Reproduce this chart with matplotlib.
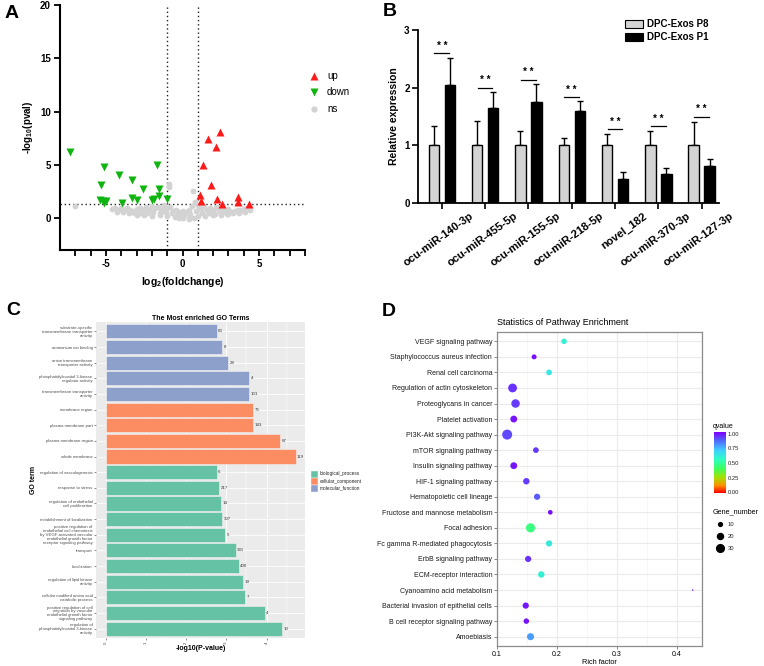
import numpy as np
import matplotlib
matplotlib.use('Agg')
import matplotlib.pyplot as plt
import matplotlib.transforms as mtransforms
from matplotlib.colors import LinearSegmentedColormap
from matplotlib.lines import Line2D
from matplotlib.patches import Rectangle

plt.rcParams['font.family'] = ['Liberation Sans', 'DejaVu Sans']
plt.rcParams['mathtext.fontset'] = 'custom'
plt.rcParams['mathtext.rm'] = 'Liberation Sans:bold'
plt.rcParams['mathtext.it'] = 'Liberation Sans:bold'
plt.rcParams['mathtext.bf'] = 'Liberation Sans:bold'

# ---------------- Panel A data (volcano) ----------------
up_x = [2.48, 1.66, 2.22, 1.35, 1.83, 1.13, 1.20, 2.26, 2.55, 3.60, 3.60, 4.33]
up_y = [8.1, 7.4, 6.7, 5.0, 3.1, 2.2, 1.6, 1.8, 1.3, 2.0, 1.5, 1.3]
down_x = [-7.36, -5.14, -5.29, -4.16, -3.33, -1.66, -2.59, -1.55, -5.36, -5.20,
          -4.98, -5.10, -3.94, -3.27, -2.96, -1.98, -1.83, -1.55, -1.00]
down_y = [6.2, 4.8, 3.1, 4.0, 3.6, 5.0, 2.7, 2.7, 1.7, 1.6,
          1.6, 1.4, 1.4, 1.85, 1.7, 1.7, 1.8, 2.1, 1.75]
ns_x = [-7.0, -0.9, -0.9, 0.7,
        -4.6, -4.4, -4.2, -4.0, -3.8, -3.6, -3.4, -3.2, -3.0, -2.8, -2.6, -2.4, -2.2, -2.0,
        -1.8, -1.6, -1.4, -1.2, -1.0, -0.8, -0.6, -0.4, -0.2, 0.0, 0.2, 0.4, 0.6, 0.8, 1.0,
        1.2, 1.4, 1.6, 1.8, 2.0, 2.2, 2.4, 2.6, 2.8, 3.0, 3.2, 3.4, 3.6, 3.8, 4.0, 4.2, 4.4,
        -4.3, -3.9, -3.5, -3.1, -2.7, -2.3, -1.9, -1.5, -1.1, -0.7, -0.3, 0.1, 0.5, 0.9,
        1.3, 1.7, 2.1, 2.5, 2.9, 3.3, 3.7, 4.1,
        -3.0, -2.5, -2.0, -1.5, -1.0, -0.5, 0.0, 0.5, 1.0, 1.5, 2.0, 2.5, 3.0,
        -2.2, -1.3, -0.1, 0.3, 1.1, 1.9, 2.7, -3.3, 0.75, -0.2, 0.4]
ns_y = [1.1, 3.2, 2.9, 2.5,
        0.85, 0.95, 0.8, 0.9, 0.75, 0.9, 0.8, 0.7, 0.85, 0.9, 0.75, 1.0, 0.8, 1.1,
        0.9, 1.0, 0.85, 1.2, 0.9, 1.0, 0.7, 0.8, 0.6, 0.7, 0.6, 0.8, 1.1, 1.5, 1.2,
        0.9, 1.0, 0.8, 0.9, 0.7, 1.0, 0.8, 0.9, 0.7, 0.85, 0.6, 0.7, 0.75, 0.8, 0.85, 0.9, 0.75,
        0.6, 0.55, 0.5, 0.45, 0.5, 0.45, 0.55, 0.5, 0.6, 0.45, 0.35, 0.3, 0.4, 0.7,
        0.5, 0.45, 0.4, 0.5, 0.4, 0.45, 0.5, 0.55,
        0.3, 0.25, 0.2, 0.25, 0.15, 0.1, 0.05, 0.1, 0.2, 0.2, 0.25, 0.3, 0.35,
        0.65, 0.7, 0.45, 0.5, 0.95, 0.6, 0.65, 0.6, 0.0, 0.0, -0.05]

# ---------------- Panel B data (qPCR bars) ----------------
mirnas = ['ocu-miR-140-3p', 'ocu-miR-455-5p', 'ocu-miR-155-5p', 'ocu-miR-218-5p',
          'novel_182', 'ocu-miR-370-3p', 'ocu-miR-127-3p']
p8_mean = [1.0, 1.0, 1.0, 1.0, 1.0, 1.0, 1.0]
p8_err = [0.33, 0.42, 0.25, 0.13, 0.19, 0.25, 0.41]
p1_mean = [2.04, 1.64, 1.75, 1.60, 0.42, 0.51, 0.64]
p1_err = [0.47, 0.29, 0.31, 0.17, 0.12, 0.09, 0.12]
sig_y = [2.60, 2.00, 2.14, 1.84, 1.28, 1.33, 1.50]

# ---------------- Panel C data (GO bars) ----------------
go_terms = [
    'substrate-specific\ntransmembrane transporter\nactivity',
    'ammonium ion binding',
    'anion transmembrane\ntransporter activity',
    'phosphatidylinositol 3-kinase\nregulator activity',
    'transmembrane transporter\nactivity',
    'membrane region',
    'plasma membrane part',
    'plasma membrane region',
    'whole membrane',
    'regulation of vasculogenesis',
    'response to stress',
    'regulation of endothelial\ncell proliferation',
    'establishment of localization',
    'positive regulation of\nendothelial cell chemotaxis\nby VEGF-activated vascular\nendothelial growth factor\nreceptor signaling pathway',
    'transport',
    'localization',
    'regulation of lipid kinase\nactivity',
    'cellular modified amino acid\ncatabolic process',
    'positive regulation of cell\nmigration by vascular\nendothelial growth factor\nsignaling pathway',
    'regulation of\nphosphatidylinositol 3-kinase\nactivity',
]
go_values = [2.76, 2.90, 3.04, 3.57, 3.57, 3.66, 3.66, 4.34, 4.72,
             2.76, 2.82, 2.86, 2.90, 2.97, 3.23, 3.31, 3.41, 3.47, 3.95, 4.39]
go_counts = ['60', '8', '28', '4', '101', '76', '143', '67', '119',
             '6', '217', '14', '307', '5', '331', '400', '19', '7', '4', '10']
go_class = ['molecular_function'] * 5 + ['cellular_component'] * 4 + ['biological_process'] * 11
go_classes = ['biological_process', 'cellular_component', 'molecular_function']

# ---------------- Panel D data (KEGG dots) ----------------
pathways = ['VEGF signaling pathway', 'Staphylococcus aureus infection', 'Renal cell carcinoma',
            'Regulation of actin cytoskeleton', 'Proteoglycans in cancer', 'Platelet activation',
            'PI3K-Akt signaling pathway', 'mTOR signaling pathway', 'Insulin signaling pathway',
            'HIF-1 signaling pathway', 'Hematopoietic cell lineage',
            'Fructose and mannose metabolism', 'Focal adhesion',
            'Fc gamma R-mediated phagocytosis', 'ErbB signaling pathway',
            'ECM-receptor interaction', 'Cyanoamino acid metabolism',
            'Bacterial invasion of epithelial cells', 'B cell receptor signaling pathway',
            'Amoebiasis']
rich_factor = [0.212, 0.162, 0.187, 0.126, 0.131, 0.128, 0.117, 0.165, 0.128, 0.149,
               0.167, 0.189, 0.156, 0.187, 0.152, 0.174, 0.427, 0.148, 0.149, 0.156]
qvalue = [0.60, 0.98, 0.63, 0.93, 0.92, 0.97, 0.90, 0.92, 0.97, 0.92,
          0.88, 0.98, 0.45, 0.62, 0.93, 0.60, 0.98, 0.97, 0.97, 0.78]
gene_number = [11, 9, 12, 28, 26, 17, 36, 12, 17, 15,
               14, 8, 30, 14, 14, 15, 1, 14, 11, 18]
size_breaks = [10, 20, 30]
q_ticks = [0.00, 0.25, 0.50, 0.75, 1.00]

# =========================================================
W, H, DPI = 764, 666, 100
fig = plt.figure(figsize=(W / DPI, H / DPI), dpi=DPI)


def fx(px):
    return px / W


def fy(py):
    return 1 - py / H


def add_ax(l, t, r, b):
    return fig.add_axes([fx(l), fy(b), (r - l) / W, (b - t) / H])


def px2pt(p):
    return p * 72.0 / DPI


# ---------------- Panel A ----------------
axA = add_ax(60, 5, 305, 250)
axA.plot(ns_x, ns_y, 'o', color='#D3D3D3', ms=4.2, mec='none', zorder=2)
axA.plot(down_x, down_y, 'v', color='#10B410', ms=6.2, mec='none', zorder=3)
axA.plot(up_x, up_y, '^', color='#FF1A1A', ms=6.2, mec='none', zorder=3)
axA.axhline(1.3, color='#222222', ls=(0, (1, 2)), lw=1.0, zorder=1)
for v in (-1, 1):
    axA.axvline(v, color='#222222', ls=(0, (1, 2)), lw=1.0, zorder=1)
axA.set_xlim(-8, 8)
axA.set_ylim(-3, 20)
for s in ('top', 'right'):
    axA.spines[s].set_visible(False)
for s in ('left', 'bottom'):
    axA.spines[s].set_linewidth(1.5)
axA.set_xticks(list(range(-7, 9)))
axA.set_xticklabels(['-5' if t == -5 else '0' if t == 0 else '5' if t == 5 else '' for t in range(-7, 9)])
axA.set_yticks([0, 5, 10, 15, 20])
axA.tick_params(width=1.3, length=4.5, labelsize=7, pad=2)
for lab in axA.get_xticklabels() + axA.get_yticklabels():
    lab.set_fontweight('bold')
axA.set_ylabel(r'-log$_{10}$(pval)', fontsize=7, fontweight='bold', labelpad=4)
axA.set_xlabel(r'log$_{2}$(foldchange)', fontsize=7.5, fontweight='bold', labelpad=4)

legA = [('^', '#FF1A1A', 'up', 76), ('v', '#10B410', 'down', 92), ('o', '#D3D3D3', 'ns', 109)]
for m, c, lab, py in legA:
    fig.add_artist(Line2D([fx(314)], [fy(py)], marker=m, color=c, ms=6.2 if m != 'o' else 4.5,
                          mec='none', ls='', transform=fig.transFigure))
    fig.text(fx(327), fy(py), lab, fontsize=7, va='center', ha='left')

# ---------------- Panel B ----------------
axB = add_ax(418, 30, 719, 203)
xb = np.arange(len(mirnas))
off, bw = 0.185, 0.24
axB.bar(xb - off, p8_mean, bw, color='#D3D3D3', edgecolor='black', lw=1.0, zorder=2)
axB.bar(xb + off, p1_mean, bw, color='black', edgecolor='black', lw=1.0, zorder=2)
axB.errorbar(xb - off, p8_mean, yerr=[[0] * len(xb), p8_err], fmt='none', ecolor='black',
             elinewidth=1.0, capsize=2.5, capthick=1.0, zorder=1)
axB.errorbar(xb + off, p1_mean, yerr=[[0] * len(xb), p1_err], fmt='none', ecolor='black',
             elinewidth=1.0, capsize=2.5, capthick=1.0, zorder=1)
for xi, sy in zip(xb, sig_y):
    axB.plot([xi - 0.17, xi + 0.17], [sy, sy], color='black', lw=0.9)
    axB.text(xi, sy + 0.04, '* *', ha='center', va='bottom', fontsize=7, fontweight='bold')
axB.set_xlim(-0.55, 6.4)
axB.set_ylim(0, 3)
for s in ('top', 'right'):
    axB.spines[s].set_visible(False)
for s in ('left', 'bottom'):
    axB.spines[s].set_linewidth(1.3)
axB.set_yticks([0, 1, 2, 3])
axB.set_xticks(xb)
axB.set_xticklabels([])
axB.tick_params(width=1.2, length=4, labelsize=7, pad=2)
for lab in axB.get_yticklabels():
    lab.set_fontweight('bold')
axB.set_ylabel('Relative expression', fontsize=7.5, fontweight='bold', labelpad=4)
lab_off = mtransforms.ScaledTranslation(28 / DPI, -8 / DPI, fig.dpi_scale_trans)
for xi, name in zip(xb, mirnas):
    axB.text(xi, 0, name, transform=axB.get_xaxis_transform() + lab_off, rotation=36,
             rotation_mode='anchor', ha='right', va='top', fontsize=8, fontweight='bold')

for fc, lab, py in [('#D3D3D3', 'DPC-Exos P8', 24), ('black', 'DPC-Exos P1', 37)]:
    fig.add_artist(Rectangle((fx(625), fy(py + 3.5)), 18 / W, 7 / H, facecolor=fc, edgecolor='black',
                             lw=0.8, transform=fig.transFigure))
    fig.text(fx(647), fy(py), lab, fontsize=7, fontweight='bold', va='center', ha='left')

# ---------------- Panel C ----------------
set2 = {'biological_process': '#66C2A5', 'cellular_component': '#FC8D62',
        'molecular_function': '#8DA0CB'}
axC = add_ax(96, 322, 305, 638)
axC.set_facecolor('#EBEBEB')
nC = len(go_terms)
yC = np.arange(nC)[::-1] + 1
axC.set_xlim(-0.236, 4.956)
axC.set_ylim(0.4, nC + 0.6)
axC.set_xticks([0, 1, 2, 3, 4])
axC.set_xticks([0.5, 1.5, 2.5, 3.5, 4.5], minor=True)
axC.set_yticks(yC)
axC.grid(True, which='major', color='white', lw=0.6)
axC.grid(True, which='minor', axis='x', color='white', lw=0.3)
axC.set_axisbelow(True)
axC.barh(yC, go_values, height=0.9, color=[set2[c] for c in go_class],
         edgecolor='#F2F2F2', lw=0.4, zorder=2)
for yi, v, cnt in zip(yC, go_values, go_counts):
    axC.text(v + 0.04, yi, cnt, fontsize=3.2, va='center', ha='left', color='#333333')
for s in axC.spines.values():
    s.set_visible(False)
axC.set_yticklabels(go_terms, fontsize=3.1, color='#4D4D4D', linespacing=0.95)
axC.set_xticklabels(['0', '1', '2', '3', '4'], fontsize=3.2, color='#4D4D4D', rotation=90)
axC.tick_params(axis='both', which='major', length=1.5, width=0.4, color='#333333', pad=1)
axC.tick_params(axis='x', which='minor', length=0)
axC.set_xlabel('-log10(P-value)', fontsize=5, fontweight='bold', labelpad=1)
axC.set_ylabel('GO term', fontsize=5, fontweight='bold', labelpad=2)
axC.set_title('The Most enriched GO Terms', fontsize=5, fontweight='bold', pad=1)
for cls, py in zip(go_classes, [474, 481, 488]):
    fig.add_artist(Rectangle((fx(311), fy(py + 3.5)), 7 / W, 7 / H, facecolor=set2[cls],
                             edgecolor='white', lw=0.3, transform=fig.transFigure))
    fig.text(fx(319.5), fy(py), cls, fontsize=3.4, va='center', ha='left', color='#222222')

# ---------------- Panel D ----------------
cmap = LinearSegmentedColormap.from_list('qv', [
    (0.00, '#FF0000'), (0.12, '#FF9000'), (0.25, '#A8E000'), (0.40, '#40FF60'),
    (0.55, '#30FFC0'), (0.70, '#40D0FF'), (0.85, '#5070FF'), (1.00, '#7F00FF')])
axD = add_ax(497, 332, 702, 646)
nD = len(pathways)
yD = np.arange(nD)[::-1]


def gsize(g):
    return px2pt(np.sqrt(2.8 * g - 0.5)) ** 2


axD.set_xlim(0.1017, 0.4425)
axD.set_ylim(-0.6, nD - 0.4)
axD.set_xticks([0.1, 0.2, 0.3, 0.4])
axD.set_xticklabels(['0.1', '0.2', '0.3', '0.4'])
axD.set_xticks([0.15, 0.25, 0.35], minor=True)
axD.set_yticks(yD)
axD.set_yticklabels(pathways, fontsize=5, color='#1A1A1A')
axD.grid(True, which='major', color='#EBEBEB', lw=0.8)
axD.grid(True, which='minor', axis='x', color='#F4F4F4', lw=0.5)
axD.set_axisbelow(True)
axD.scatter(rich_factor, yD, s=[gsize(g) for g in gene_number], c=qvalue, cmap=cmap,
            vmin=0, vmax=1, linewidths=0, zorder=3)
for s in axD.spines.values():
    s.set_color('#8C8C8C')
    s.set_linewidth(0.9)
axD.tick_params(axis='both', which='major', length=2, width=0.5, color='#555555',
                labelsize=5, pad=1.5)
axD.tick_params(axis='x', which='minor', length=0)
axD.set_xlabel('Rich factor', fontsize=5.3, labelpad=0.5)
axD.set_title('Statistics of Pathway Enrichment', fontsize=6.5, loc='left', pad=5)

cax = add_ax(714, 432, 726, 493)
grad = np.linspace(0, 1, 200).reshape(-1, 1)
cax.imshow(grad, aspect='auto', cmap=cmap, origin='lower', extent=[0, 1, 0, 1])
cax.set_xticks([])
cax.set_yticks([])
for s in cax.spines.values():
    s.set_visible(False)
for q in q_ticks:
    fig.text(fx(728), fy(493 - q * 59), '%.2f' % q, fontsize=4.2, va='center', ha='left',
             color='#222222')
fig.text(fx(713), fy(427), 'qvalue', fontsize=5, va='center', ha='left')
fig.text(fx(713), fy(512), 'Gene_number', fontsize=5.2, va='center', ha='left')
for g, py in zip(size_breaks, [524, 536, 548]):
    fig.add_artist(Line2D([fx(719.5)], [fy(py)], marker='o', color='black', ls='',
                          ms=np.sqrt(gsize(g)), mec='none', transform=fig.transFigure))
    fig.text(fx(728), fy(py), str(g), fontsize=4.2, va='center', ha='left', color='#222222')

# ---------------- panel letters ----------------
for lab, px, py in [('A', 5, 13), ('B', 383, 11), ('C', 6, 310), ('D', 382, 311)]:
    fig.text(fx(px), fy(py), lab, fontsize=14, fontweight='bold', va='center', ha='left')

fig.savefig('out.png', dpi=DPI)
